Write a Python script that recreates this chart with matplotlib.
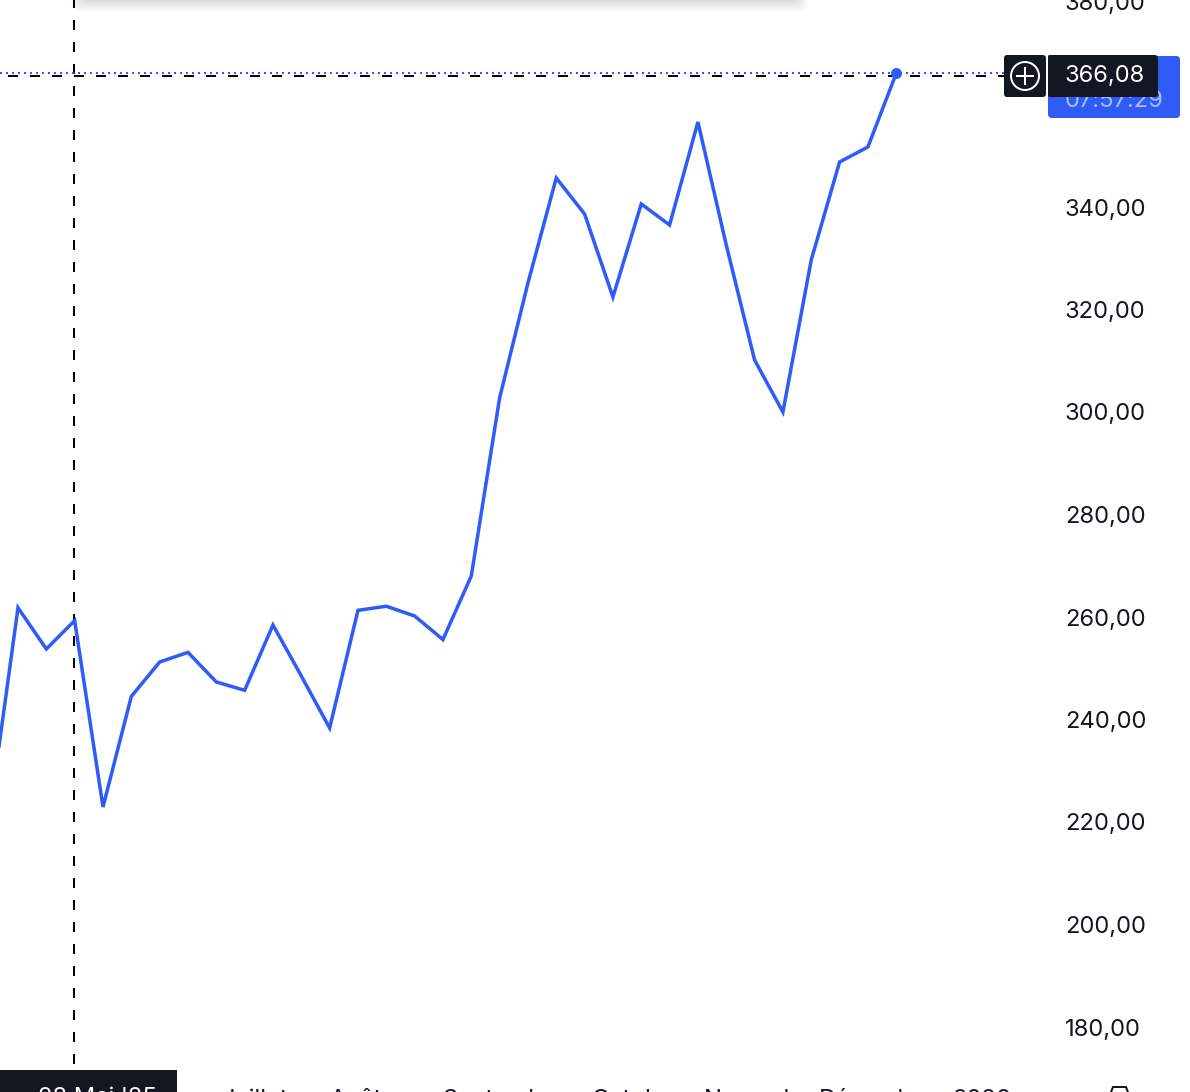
import matplotlib
matplotlib.use("Agg")
import matplotlib.pyplot as plt
from matplotlib.patches import FancyBboxPatch, Rectangle, Circle, Polygon
from matplotlib.transforms import Affine2D

# ---- data ----
week_index = list(range(-1, 32))
prices = [221.5, 261.8, 253.76, 259.3, 222.93, 244.5, 251.22, 253.1, 247.32, 245.7,
          258.44, 248.49, 238.34, 261.3, 262.1, 260.2, 255.6, 268.0, 302.73, 325.17,
          345.66, 338.63, 322.44, 340.59, 336.49, 356.59, 332.59, 310.15, 300.0, 329.66,
          348.78, 351.71, 366.08]
y_ticks = [180, 200, 220, 240, 260, 280, 300, 320, 340, 360, 380]
y_tick_labels = ["180,00", "200,00", "220,00", "240,00", "260,00", "280,00", "300,00",
                 "320,00", "340,00", "", "380,00"]
x_tick_pos = [7.2, 10.98, 15.0, 20.26, 24.22, 28.27, 32.98]
x_tick_labels = ["Juillet", "Août", "Septembre", "Octobre", "Novembre", "Décembre", "2026"]
last_price = "366,08"
countdown = "07:57:29"
crosshair_week = 1.97
crosshair_price = 365.56
crosshair_date = "28 Mai '25"

W, H = 1190, 1092
BLUE = "#2f5cf6"
DARK = "#131722"
FS = 17.1
plt.rcParams["font.family"] = ["Inter", "DejaVu Sans"]
plt.rcParams["lines.scale_dashes"] = False
PX = 0.72

fig = plt.figure(figsize=(W / 100, H / 100), dpi=100, facecolor="white")
ax = fig.add_axes([0, 0, 1, 1])
x0, dx = 18, 28.33
ax.set_xlim((0 - x0) / dx, (W - x0) / dx)
ax.set_ylim(340 - (H - 207) / 5.125, 340 + 207 / 5.125)
for s in ax.spines.values():
    s.set_visible(False)
ax.set_facecolor("white")

ax.yaxis.tick_right()
ax.set_yticks(y_ticks, y_tick_labels)
ax.tick_params(axis="y", length=0, pad=(1065 - W) * PX, labelsize=FS, labelcolor=DARK)
ax.set_xticks(x_tick_pos, x_tick_labels, ha="left")
ax.tick_params(axis="x", length=0, pad=-3 * PX, labelsize=FS, labelcolor=DARK)

# crosshair and last-price lines, both stopping at the price label
line_end = (1004 - x0) / dx
ax.axvline(crosshair_week, ymin=1, ymax=0, color="black", lw=2 * PX,
           ls=(2 * PX, (10 * PX, 12 * PX)), zorder=2)
ax.plot([ax.get_xlim()[0], line_end], [crosshair_price] * 2, color="black",
        lw=2 * PX, ls=(14 * PX, (10 * PX, 12 * PX)), zorder=2)
ax.plot([ax.get_xlim()[0], line_end], [prices[-1]] * 2, color=BLUE,
        lw=2 * PX, ls=(0, (2 * PX, 4 * PX)), zorder=2.5)

ax.plot(week_index, prices, color=BLUE, lw=3.5 * PX, solid_joinstyle="miter", zorder=3)
ax.plot(week_index[-1], prices[-1], "o", color=BLUE, ms=11 * PX, mew=0, zorder=4)

# pixel-coordinate chrome
px = Affine2D().scale(1 / W, -1 / H).translate(0, 1) + fig.transFigure


def box(x1, y1, x2, y2, color, r=3, z=6, alpha=1):
    p = FancyBboxPatch((x1 + r, y1 + r), x2 - x1 - 2 * r, y2 - y1 - 2 * r,
                       boxstyle=f"round,pad={r},rounding_size={r}", fc=color, ec="none",
                       alpha=alpha, transform=px, zorder=z, clip_on=False)
    fig.add_artist(p)


# shadow of a panel above the crop
for d in range(0, 14):
    box(84 - d, -40, 795 + d, d - 1, "black", r=8, z=1.5, alpha=0.013)

# price labels
box(1048, 56, 1180, 118, BLUE, r=4, z=6)
fig.text(1065 / W, 1 - 101 / H, countdown, color="#a8bbff", fontsize=FS, va="center", ha="left", zorder=7)
box(1047, 55, 1158, 97, DARK, r=3, z=8)
box(1004, 55, 1046, 97, DARK, r=3, z=8)
fig.add_artist(Rectangle((1046, 55), 2, 42, fc="white", ec="none", transform=px, zorder=8.5))
fig.text(1065 / W, 1 - 75.5 / H, last_price, color="white", fontsize=FS, va="center", ha="left", zorder=9)
fig.add_artist(Circle((1025, 76), 14, fc="none", ec="white", lw=2 * PX, transform=px, zorder=9))
fig.add_artist(plt.Line2D([1017, 1033], [76, 76], color="white", lw=2 * PX, transform=px, zorder=9))
fig.add_artist(plt.Line2D([1025, 1025], [68, 84], color="white", lw=2 * PX, transform=px, zorder=9))

# crosshair date label, cropped by the bottom edge
fig.add_artist(Rectangle((0, 1070), 177, 30, fc=DARK, ec="none", transform=px, zorder=8))
fig.text(38 / W, 1 - 1087 / H, crosshair_date, color="white", fontsize=FS, va="top", ha="left", zorder=9)

# cropped settings icon
fig.add_artist(Polygon([[1108, 1100], [1113, 1087], [1126, 1087], [1131, 1100]], closed=False,
                       fc="none", ec=DARK, lw=2 * PX, transform=px, zorder=9))

fig.savefig("out.png", dpi=100)
